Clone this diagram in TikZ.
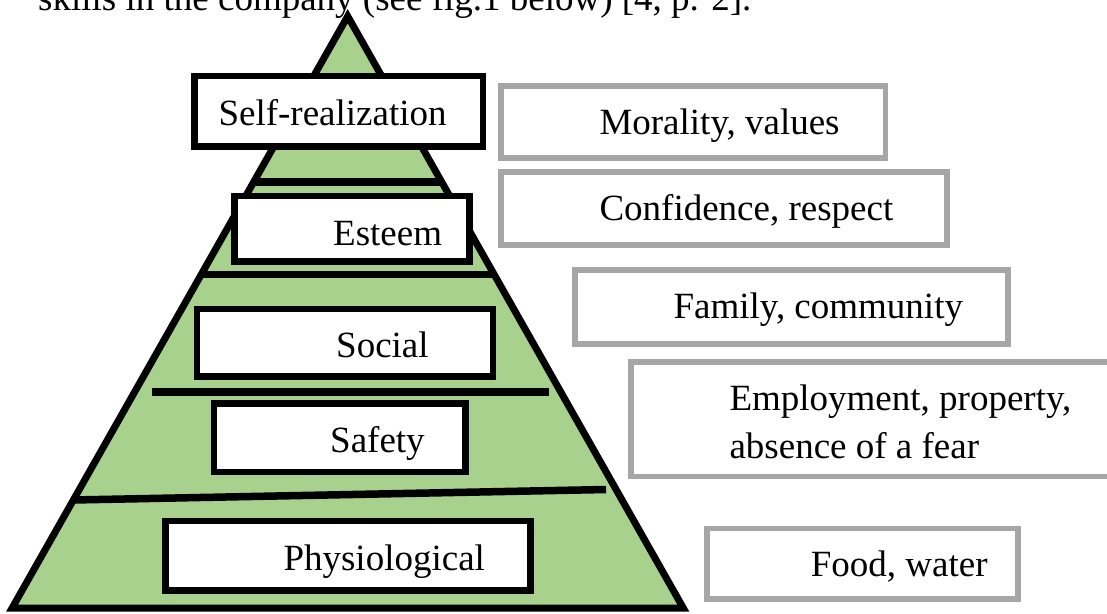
\documentclass[tikz,border=0pt]{standalone}
\usepackage{fontspec}
\setmainfont{Liberation Serif}
\definecolor{pyrgreen}{HTML}{A9D18E}
\definecolor{boxgrey}{HTML}{A6A6A6}
\newcommand{\lblfont}{\fontsize{37}{47.6}\selectfont}
\tikzset{
  blackbox/.style={draw=black, line width=6.5pt, fill=white, inner sep=0pt, rectangle},
  greybox/.style={draw=boxgrey, line width=5.5pt, fill=white, inner sep=0pt, rectangle},
  lbl/.style={anchor=base west, inner sep=0pt, font=\lblfont, text=black},
  divider/.style={draw=black, line width=7.5pt},
  pyr/.style={draw=black, line width=7pt, line join=miter, miter limit=10}
}
\begin{document}
\begin{tikzpicture}[x=1pt, y=-1pt]
\useasboundingbox (0,0) rectangle (1107,613);
\clip (0,0) rectangle (1107,613);
% top running text (cut off)
\node[lbl] (toptext) at (38,10) {skills in the company (see fig.1 below) [4, p. 2].};
% pyramid
\coordinate (apex) at (347.7,16.2);
\coordinate (bl) at (12.0,608.2);
\coordinate (br) at (683.4,608.2);
\fill[pyrgreen] (apex) -- (bl) -- (br) -- cycle;
% dividers
\coordinate (d1l) at (253.7,182);  \coordinate (d1r) at (441.7,182);
\coordinate (d2l) at (201.2,274.5); \coordinate (d2r) at (494.2,274.5);
\coordinate (d3l) at (152,392);    \coordinate (d3r) at (549,392);
\coordinate (d4l) at (73.4,500);   \coordinate (d4r) at (606,489.5);
\draw[divider] (d1l) -- (d1r);
\draw[divider] (d2l) -- (d2r);
\draw[divider] (d3l) -- (d3r);
\draw[divider] (d4l) -- (d4r);
\draw[pyr] (apex) -- (bl) -- (br) -- cycle;
% level boxes
\node[blackbox, minimum width=288.3pt, minimum height=70.5pt] (srbox) at (338.65,111.25) {};
\node[lbl] (srtext) at (218.3,125) {Self-realization};
\node[blackbox, minimum width=235pt, minimum height=65.5pt] (esbox) at (352,228.75) {};
\node[lbl] (estext) at (333,245.7) {Esteem};
\node[blackbox, minimum width=296pt, minimum height=67.5pt] (sobox) at (345,342.75) {};
\node[lbl] (sotext) at (336,357.3) {Social};
\node[blackbox, minimum width=251.5pt, minimum height=68.5pt] (sabox) at (339.75,437.75) {};
\node[lbl] (satext) at (330,452.7) {Safety};
\node[blackbox, minimum width=365pt, minimum height=69.5pt] (phbox) at (348,555.75) {};
\node[lbl] (phtext) at (283.3,570) {Physiological};
% description boxes
\node[greybox, minimum width=384.5pt, minimum height=72pt] (mobox) at (693.25,122) {};
\node[lbl] (motext) at (599.3,134) {Morality, values};
\node[greybox, minimum width=446pt, minimum height=73pt] (cobox) at (724,208.5) {};
\node[lbl] (cotext) at (599.3,220.7) {Confidence, respect};
\node[greybox, minimum width=433pt, minimum height=74pt] (fabox) at (791.5,307) {};
\node[lbl] (fatext) at (673.3,318.3) {Family, community};
\node[greybox, minimum width=499pt, minimum height=114.5pt] (embox) at (880.5,419.25) {};
\node[lbl] (emtexta) at (729.3,410.7) {Employment, property,};
\node[lbl] (emtextb) at (729.3,458.3) {absence of a fear};
\node[greybox, minimum width=311pt, minimum height=70.5pt] (fobox) at (862.5,563.75) {};
\node[lbl] (fotext) at (810.7,576.7) {Food, water};
\end{tikzpicture}
\end{document}
